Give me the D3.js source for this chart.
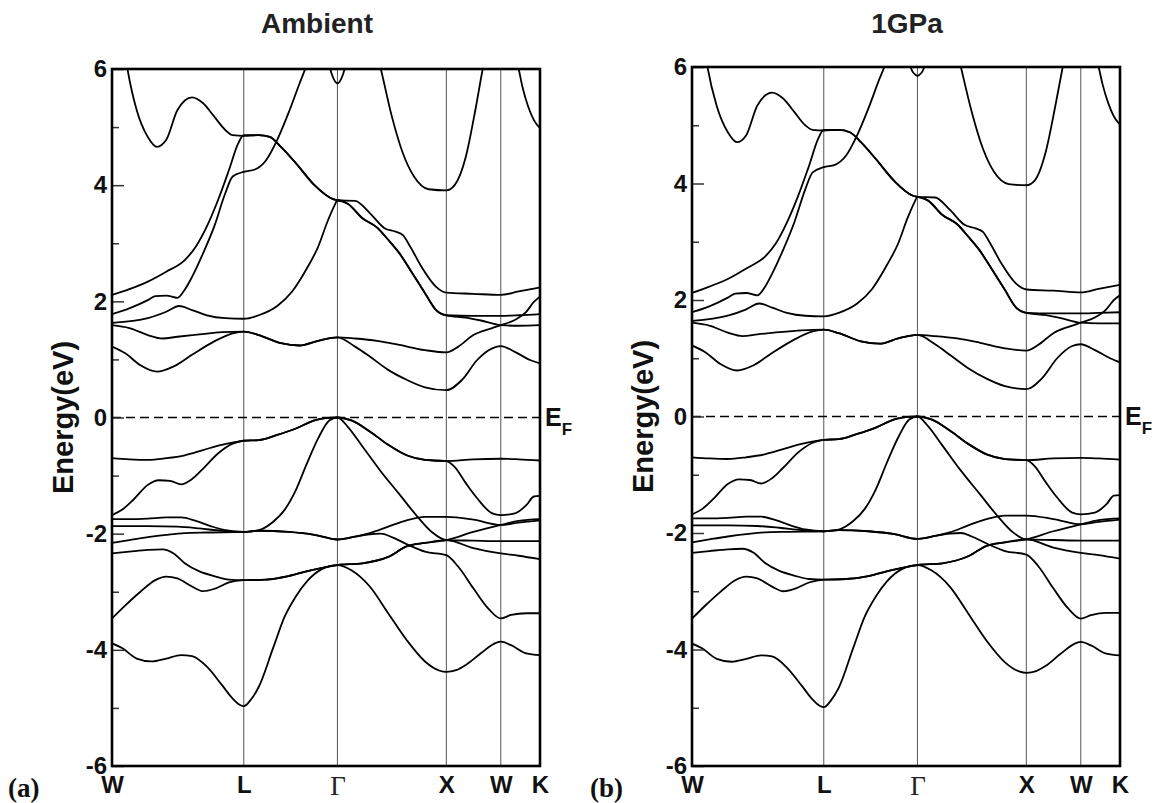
<!DOCTYPE html>
<html><head><meta charset="utf-8">
<script src="https://cdn.jsdelivr.net/npm/d3@7"></script>
<style>body{margin:0;background:#fff}</style>
</head><body>
<svg id="chart" width="1155" height="803"></svg>
<script>
// ---------- data ----------
const kLabels = ["W","L","Γ","X","W","K"];
const kTicks = [0, 1.21, 2.07, 3.07, 3.57, 3.93];
const yMajorTicks = [-6,-4,-2,0,2,4,6];
const yMinorTicks = [-5,-3,-1,1,3,5];
const panelTitles = ["Ambient","1GPa"];
const panelTags = ["(a)","(b)"];
const yLabel = "Energy(eV)";

// Ambient: valence bands [k, E]
const ambVB1 = [[0,-0.70],[0.159,-0.72],[0.329,-0.73],[0.498,-0.70],[0.668,-0.65],[0.837,-0.56],[1.007,-0.47],[1.142,-0.42],[1.21,-0.40],[1.347,-0.39],[1.517,-0.30],[1.688,-0.19],[1.859,-0.05],[1.961,-0.01],[2.07,0],[2.198,-0.05],[2.367,-0.24],[2.536,-0.47],[2.705,-0.65],[2.874,-0.73],[3.07,-0.75],[3.318,-0.72],[3.57,-0.71],[3.734,-0.72],[3.93,-0.74]];
const ambVB2 = [[0,-1.68],[0.092,-1.59],[0.194,-1.42],[0.329,-1.16],[0.430,-1.08],[0.532,-1.09],[0.634,-1.15],[0.735,-1.06],[0.837,-0.88],[0.973,-0.62],[1.108,-0.45],[1.21,-0.40],[1.347,-0.39],[1.517,-0.30],[1.688,-0.19],[1.859,-0.05],[1.961,-0.01],[2.07,0],[2.198,-0.05],[2.367,-0.24],[2.536,-0.47],[2.705,-0.65],[2.874,-0.73],[3.07,-0.75],[3.146,-0.85],[3.249,-1.13],[3.353,-1.39],[3.491,-1.65],[3.57,-1.68],[3.699,-1.65],[3.804,-1.51],[3.874,-1.36],[3.93,-1.35]];
const ambVB3 = [[0,-1.75],[0.159,-1.75],[0.329,-1.74],[0.498,-1.72],[0.634,-1.72],[0.769,-1.78],[0.905,-1.87],[1.040,-1.94],[1.21,-1.97],[1.347,-1.94],[1.483,-1.79],[1.585,-1.59],[1.688,-1.25],[1.790,-0.79],[1.893,-0.36],[1.995,-0.05],[2.07,0],[2.165,-0.16],[2.300,-0.50],[2.469,-0.93],[2.638,-1.32],[2.806,-1.71],[2.942,-1.98],[3.07,-2.11],[3.318,-2.12],[3.57,-2.13],[3.734,-2.13],[3.93,-2.13]];
const ambVB4 = [[0,-1.87],[0.329,-1.87],[0.600,-1.88],[0.803,-1.91],[1.007,-1.95],[1.21,-1.97],[1.347,-1.95],[1.620,-1.97],[1.859,-2.02],[2.07,-2.10],[2.232,-2.05],[2.367,-1.99],[2.536,-1.88],[2.705,-1.77],[2.874,-1.71],[3.07,-1.71],[3.318,-1.76],[3.57,-1.85],[3.734,-1.81],[3.93,-1.77]];
const ambVB5 = [[0,-2.16],[0.159,-2.11],[0.329,-2.06],[0.498,-2.02],[0.668,-1.99],[0.871,-1.98],[1.21,-1.97],[1.347,-1.95],[1.620,-1.97],[1.859,-2.02],[2.07,-2.10],[2.232,-2.05],[2.367,-2.01],[2.469,-2.00],[2.570,-2.06],[2.705,-2.18],[2.874,-2.31],[3.07,-2.37],[3.180,-2.57],[3.318,-2.94],[3.456,-3.29],[3.57,-3.46],[3.664,-3.40],[3.804,-3.37],[3.93,-3.37]];
const ambVB6 = [[0,-2.34],[0.159,-2.31],[0.329,-2.28],[0.464,-2.27],[0.566,-2.34],[0.668,-2.51],[0.803,-2.65],[0.939,-2.73],[1.074,-2.79],[1.21,-2.80],[1.415,-2.79],[1.620,-2.73],[1.824,-2.63],[2.07,-2.54],[2.300,-2.51],[2.536,-2.40],[2.705,-2.22],[2.874,-2.16],[3.07,-2.11],[3.318,-2.25],[3.57,-2.34],[3.734,-2.38],[3.93,-2.44]];
const ambVB7 = [[0,-3.46],[0.125,-3.23],[0.261,-3.00],[0.397,-2.80],[0.498,-2.74],[0.600,-2.77],[0.735,-2.91],[0.837,-2.99],[0.939,-2.95],[1.074,-2.84],[1.21,-2.80],[1.415,-2.79],[1.620,-2.73],[1.824,-2.63],[2.07,-2.54],[2.300,-2.51],[2.536,-2.40],[2.705,-2.22],[2.874,-2.16],[3.07,-2.11],[3.318,-1.97],[3.57,-1.85],[3.734,-1.78],[3.93,-1.75]];
const ambVB8 = [[0,-3.89],[0.092,-3.97],[0.227,-4.15],[0.363,-4.20],[0.498,-4.15],[0.634,-4.09],[0.735,-4.11],[0.871,-4.29],[1.007,-4.60],[1.108,-4.84],[1.176,-4.95],[1.21,-4.97],[1.278,-4.85],[1.347,-4.64],[1.483,-3.95],[1.585,-3.43],[1.688,-3.08],[1.790,-2.82],[1.927,-2.61],[2.07,-2.54],[2.198,-2.63],[2.367,-2.91],[2.536,-3.37],[2.705,-3.83],[2.874,-4.20],[3.009,-4.36],[3.07,-4.38],[3.160,-4.35],[3.249,-4.26],[3.387,-4.06],[3.525,-3.88],[3.57,-3.86],[3.664,-3.92],[3.804,-4.06],[3.93,-4.09]];
// Ambient: conduction bands
const ambCB1 = [[0,1.22],[0.125,1.10],[0.261,0.90],[0.413,0.79],[0.566,0.88],[0.735,1.08],[0.939,1.31],[1.108,1.45],[1.21,1.48],[1.347,1.42],[1.551,1.28],[1.722,1.24],[1.893,1.32],[2.07,1.38],[2.232,1.22],[2.367,1.05],[2.536,0.82],[2.705,0.65],[2.874,0.52],[3.07,0.47],[3.215,0.65],[3.353,0.99],[3.491,1.19],[3.57,1.23],[3.699,1.13],[3.839,0.99],[3.93,0.93]];
const ambCB2 = [[0,1.59],[0.159,1.54],[0.329,1.42],[0.464,1.36],[0.600,1.39],[0.803,1.43],[1.007,1.47],[1.21,1.48],[1.347,1.42],[1.551,1.28],[1.722,1.24],[1.893,1.32],[2.07,1.38],[2.232,1.36],[2.435,1.32],[2.638,1.25],[2.874,1.16],[3.07,1.12],[3.180,1.22],[3.318,1.42],[3.491,1.54],[3.57,1.59],[3.699,1.68],[3.804,1.82],[3.874,1.99],[3.93,2.08]];
const ambCB3 = [[0,1.63],[0.329,1.71],[0.498,1.82],[0.617,1.92],[0.735,1.85],[0.871,1.76],[1.040,1.71],[1.21,1.70],[1.347,1.76],[1.517,1.92],[1.654,2.17],[1.790,2.57],[1.893,2.94],[1.978,3.37],[2.046,3.66],[2.07,3.74],[2.165,3.68],[2.300,3.43],[2.435,3.27],[2.536,3.06],[2.638,2.83],[2.739,2.54],[2.874,2.14],[2.976,1.85],[3.07,1.76],[3.249,1.72],[3.387,1.67],[3.57,1.59],[3.734,1.58],[3.93,1.59]];
const ambCB4 = [[0,1.78],[0.159,1.88],[0.329,2.02],[0.397,2.09],[0.498,2.10],[0.600,2.06],[0.668,2.20],[0.735,2.42],[0.837,2.83],[0.939,3.29],[1.040,3.86],[1.108,4.15],[1.21,4.23],[1.312,4.27],[1.415,4.43],[1.517,4.78],[1.620,5.24],[1.722,5.75],[1.773,6.0],[1.82,6.3]];
const ambCB5 = [[0,2.11],[0.159,2.21],[0.329,2.34],[0.498,2.51],[0.668,2.71],[0.769,2.94],[0.871,3.29],[0.973,3.74],[1.074,4.26],[1.159,4.72],[1.21,4.86],[1.347,4.86],[1.449,4.83],[1.551,4.66],[1.688,4.38],[1.859,4.00],[2.029,3.76],[2.07,3.74],[2.232,3.73],[2.367,3.52],[2.502,3.26],[2.604,3.20],[2.671,3.14],[2.739,2.94],[2.840,2.60],[2.976,2.25],[3.07,2.15],[3.318,2.13],[3.57,2.11],[3.734,2.17],[3.93,2.24]];
const ambCB6 = [[0.10,6.5],[0.142,6.0],[0.227,5.29],[0.329,4.83],[0.413,4.66],[0.498,4.78],[0.600,5.29],[0.735,5.51],[0.837,5.41],[0.939,5.18],[1.040,4.95],[1.108,4.86],[1.21,4.85],[1.347,4.86],[1.449,4.83],[1.551,4.66],[1.688,4.38],[1.859,4.00],[2.029,3.76],[2.07,3.74],[2.165,3.68],[2.300,3.43],[2.435,3.27],[2.536,3.06],[2.638,2.83],[2.739,2.54],[2.874,2.14],[2.976,1.85],[3.07,1.76],[3.318,1.75],[3.57,1.75],[3.734,1.76],[3.93,1.78]];
const ambCB7 = [[2.45,6.15],[2.469,6.0],[2.570,5.18],[2.671,4.55],[2.773,4.15],[2.908,3.93],[3.07,3.91],[3.146,4.00],[3.249,4.49],[3.336,5.29],[3.404,6.0],[3.42,6.15]];
const ambCB8 = [[3.72,6.1],[3.734,6.0],[3.769,5.69],[3.822,5.35],[3.874,5.12],[3.93,4.98]];
const ambCB9 = [[1.99,6.1],[2.02,5.9],[2.05,5.78],[2.07,5.75],[2.09,5.78],[2.12,5.9],[2.15,6.1]];

// 1 GPa: valence bands
const gpaVB1 = [[0,-0.70],[0.159,-0.72],[0.329,-0.73],[0.498,-0.70],[0.668,-0.65],[0.837,-0.56],[1.007,-0.47],[1.142,-0.42],[1.21,-0.40],[1.347,-0.39],[1.517,-0.30],[1.688,-0.19],[1.859,-0.05],[1.961,-0.01],[2.07,0],[2.198,-0.05],[2.367,-0.24],[2.536,-0.47],[2.705,-0.65],[2.874,-0.73],[3.07,-0.75],[3.318,-0.72],[3.57,-0.71],[3.734,-0.72],[3.93,-0.74]];
const gpaVB2 = [[0,-1.68],[0.092,-1.59],[0.194,-1.42],[0.329,-1.16],[0.430,-1.08],[0.532,-1.09],[0.634,-1.15],[0.735,-1.06],[0.837,-0.88],[0.973,-0.62],[1.108,-0.45],[1.21,-0.40],[1.347,-0.39],[1.517,-0.30],[1.688,-0.19],[1.859,-0.05],[1.961,-0.01],[2.07,0],[2.198,-0.05],[2.367,-0.24],[2.536,-0.47],[2.705,-0.65],[2.874,-0.73],[3.07,-0.75],[3.146,-0.85],[3.249,-1.13],[3.353,-1.39],[3.491,-1.65],[3.57,-1.68],[3.699,-1.65],[3.804,-1.51],[3.874,-1.36],[3.93,-1.35]];
const gpaVB3 = [[0,-1.75],[0.159,-1.75],[0.329,-1.74],[0.498,-1.72],[0.634,-1.72],[0.769,-1.78],[0.905,-1.87],[1.040,-1.94],[1.21,-1.97],[1.347,-1.94],[1.483,-1.79],[1.585,-1.59],[1.688,-1.25],[1.790,-0.79],[1.893,-0.36],[1.995,-0.05],[2.07,0],[2.165,-0.16],[2.300,-0.50],[2.469,-0.93],[2.638,-1.32],[2.806,-1.71],[2.942,-1.98],[3.07,-2.11],[3.318,-2.12],[3.57,-2.13],[3.734,-2.13],[3.93,-2.13]];
const gpaVB4 = [[0,-1.87],[0.329,-1.87],[0.600,-1.88],[0.803,-1.91],[1.007,-1.95],[1.21,-1.97],[1.347,-1.95],[1.620,-1.97],[1.859,-2.02],[2.07,-2.10],[2.232,-2.05],[2.367,-1.99],[2.536,-1.87],[2.705,-1.76],[2.874,-1.70],[3.07,-1.70],[3.318,-1.76],[3.57,-1.85],[3.734,-1.81],[3.93,-1.77]];
const gpaVB5 = [[0,-2.16],[0.159,-2.11],[0.329,-2.06],[0.498,-2.02],[0.668,-1.99],[0.871,-1.98],[1.21,-1.97],[1.347,-1.95],[1.620,-1.97],[1.859,-2.02],[2.07,-2.10],[2.232,-2.05],[2.367,-2.01],[2.469,-2.00],[2.570,-2.06],[2.705,-2.18],[2.874,-2.31],[3.07,-2.37],[3.180,-2.57],[3.318,-2.95],[3.456,-3.30],[3.57,-3.47],[3.664,-3.41],[3.804,-3.37],[3.93,-3.37]];
const gpaVB6 = [[0,-2.34],[0.159,-2.31],[0.329,-2.28],[0.464,-2.27],[0.566,-2.34],[0.668,-2.51],[0.803,-2.65],[0.939,-2.73],[1.074,-2.79],[1.21,-2.80],[1.415,-2.79],[1.620,-2.74],[1.824,-2.64],[2.07,-2.55],[2.300,-2.52],[2.536,-2.40],[2.705,-2.22],[2.874,-2.16],[3.07,-2.11],[3.318,-2.25],[3.57,-2.34],[3.734,-2.38],[3.93,-2.44]];
const gpaVB7 = [[0,-3.47],[0.125,-3.24],[0.261,-3.01],[0.397,-2.81],[0.498,-2.75],[0.600,-2.78],[0.735,-2.92],[0.837,-3.00],[0.939,-2.96],[1.074,-2.85],[1.21,-2.80],[1.415,-2.79],[1.620,-2.74],[1.824,-2.64],[2.07,-2.55],[2.300,-2.52],[2.536,-2.40],[2.705,-2.22],[2.874,-2.16],[3.07,-2.11],[3.318,-1.97],[3.57,-1.85],[3.734,-1.78],[3.93,-1.75]];
const gpaVB8 = [[0,-3.90],[0.092,-3.98],[0.227,-4.16],[0.363,-4.21],[0.498,-4.16],[0.634,-4.10],[0.735,-4.12],[0.871,-4.31],[1.007,-4.62],[1.108,-4.86],[1.176,-4.97],[1.21,-4.99],[1.278,-4.87],[1.347,-4.66],[1.483,-3.96],[1.585,-3.44],[1.688,-3.09],[1.790,-2.83],[1.927,-2.62],[2.07,-2.55],[2.198,-2.64],[2.367,-2.92],[2.536,-3.38],[2.705,-3.85],[2.874,-4.22],[3.009,-4.38],[3.07,-4.40],[3.160,-4.37],[3.249,-4.28],[3.387,-4.07],[3.525,-3.89],[3.57,-3.87],[3.664,-3.93],[3.804,-4.07],[3.93,-4.10]];
// 1 GPa: conduction bands
const gpaCB1 = [[0,1.22],[0.125,1.10],[0.261,0.90],[0.413,0.79],[0.566,0.88],[0.735,1.09],[0.939,1.32],[1.108,1.46],[1.21,1.49],[1.347,1.43],[1.551,1.29],[1.722,1.25],[1.893,1.34],[2.07,1.40],[2.232,1.24],[2.367,1.06],[2.536,0.83],[2.705,0.65],[2.874,0.52],[3.07,0.47],[3.215,0.66],[3.353,1.00],[3.491,1.21],[3.57,1.24],[3.699,1.14],[3.839,1.00],[3.93,0.93]];
const gpaCB2 = [[0,1.61],[0.159,1.56],[0.329,1.44],[0.464,1.38],[0.600,1.41],[0.803,1.45],[1.007,1.48],[1.21,1.49],[1.347,1.43],[1.551,1.29],[1.722,1.25],[1.893,1.34],[2.07,1.40],[2.232,1.38],[2.435,1.34],[2.638,1.27],[2.874,1.17],[3.07,1.13],[3.180,1.23],[3.318,1.43],[3.491,1.56],[3.57,1.61],[3.699,1.70],[3.804,1.84],[3.874,2.00],[3.93,2.08]];
const gpaCB3 = [[0,1.64],[0.329,1.73],[0.498,1.84],[0.617,1.94],[0.735,1.87],[0.871,1.78],[1.040,1.73],[1.21,1.72],[1.347,1.78],[1.517,1.94],[1.654,2.19],[1.790,2.60],[1.893,2.97],[1.978,3.40],[2.046,3.69],[2.07,3.77],[2.165,3.71],[2.300,3.46],[2.435,3.30],[2.536,3.09],[2.638,2.86],[2.739,2.57],[2.874,2.17],[2.976,1.87],[3.07,1.78],[3.249,1.74],[3.387,1.69],[3.57,1.61],[3.734,1.60],[3.93,1.60]];
const gpaCB4 = [[0,1.79],[0.159,1.89],[0.329,2.04],[0.397,2.11],[0.498,2.12],[0.600,2.08],[0.668,2.22],[0.735,2.45],[0.837,2.86],[0.939,3.33],[1.040,3.90],[1.108,4.19],[1.21,4.28],[1.312,4.32],[1.415,4.48],[1.517,4.83],[1.620,5.29],[1.722,5.80],[1.765,6.0],[1.81,6.3]];
const gpaCB5 = [[0,2.12],[0.159,2.23],[0.329,2.36],[0.498,2.54],[0.668,2.74],[0.769,2.97],[0.871,3.33],[0.973,3.78],[1.074,4.30],[1.159,4.77],[1.21,4.92],[1.347,4.92],[1.449,4.88],[1.551,4.71],[1.688,4.42],[1.859,4.04],[2.029,3.79],[2.07,3.77],[2.232,3.76],[2.367,3.55],[2.502,3.29],[2.604,3.23],[2.671,3.17],[2.739,2.97],[2.840,2.63],[2.976,2.28],[3.07,2.18],[3.318,2.16],[3.57,2.13],[3.734,2.19],[3.93,2.26]];
const gpaCB6 = [[0.10,6.5],[0.142,6.0],[0.227,5.33],[0.329,4.88],[0.413,4.71],[0.498,4.83],[0.600,5.34],[0.735,5.56],[0.837,5.46],[0.939,5.23],[1.040,5.00],[1.108,4.92],[1.21,4.91],[1.347,4.92],[1.449,4.88],[1.551,4.71],[1.688,4.42],[1.859,4.04],[2.029,3.79],[2.07,3.77],[2.165,3.71],[2.300,3.46],[2.435,3.30],[2.536,3.09],[2.638,2.86],[2.739,2.57],[2.874,2.17],[2.976,1.87],[3.07,1.78],[3.318,1.77],[3.57,1.77],[3.734,1.78],[3.93,1.79]];
const gpaCB7 = [[2.45,6.15],[2.469,6.0],[2.570,5.22],[2.671,4.60],[2.773,4.20],[2.908,3.99],[3.07,3.97],[3.146,4.05],[3.249,4.55],[3.336,5.33],[3.404,6.0],[3.42,6.15]];
const gpaCB8 = [[3.72,6.1],[3.734,6.0],[3.769,5.71],[3.822,5.38],[3.874,5.15],[3.93,5.01]];
const gpaCB9 = [[1.99,6.1],[2.025,5.92],[2.05,5.87],[2.07,5.85],[2.09,5.87],[2.115,5.92],[2.15,6.1]];

const ambientBands = [ambVB1,ambVB2,ambVB3,ambVB4,ambVB5,ambVB6,ambVB7,ambVB8,ambCB1,ambCB2,ambCB3,ambCB4,ambCB5,ambCB6,ambCB7,ambCB8,ambCB9];
const gpaBands = [gpaVB1,gpaVB2,gpaVB3,gpaVB4,gpaVB5,gpaVB6,gpaVB7,gpaVB8,gpaCB1,gpaCB2,gpaCB3,gpaCB4,gpaCB5,gpaCB6,gpaCB7,gpaCB8,gpaCB9];

// ---------- layout ----------
const panels = [
  {title: panelTitles[0], tag: panelTags[0], bands: ambientBands, left:112, right:540, top:69, bottom:766, titleX:317, tagX:8, yLabelX:63},
  {title: panelTitles[1], tag: panelTags[1], bands: gpaBands, left:692, right:1120, top:67, bottom:766, titleX:907, tagX:590, yLabelX:643}
];
const SANS = "'Liberation Sans', Arial, Helvetica, sans-serif";
const SERIF = "'Liberation Serif', 'Times New Roman', serif";

const svg = d3.select("#chart");
svg.append("rect").attr("width",1155).attr("height",803).attr("fill","#fff");
const defs = svg.append("defs");

panels.forEach((p, pi) => {
  const x = d3.scaleLinear().domain([kTicks[0], kTicks[kTicks.length-1]]).range([p.left, p.right]);
  const y = d3.scaleLinear().domain([-6, 6]).range([p.bottom, p.top]);
  const g = svg.append("g");
  const clipId = "clip" + pi;
  defs.append("clipPath").attr("id", clipId).append("rect")
    .attr("x", p.left).attr("y", p.top).attr("width", p.right - p.left).attr("height", p.bottom - p.top);

  // high-symmetry vertical lines
  g.append("g").selectAll("line").data(kTicks.slice(1, -1)).join("line")
    .attr("x1", d => x(d)).attr("x2", d => x(d)).attr("y1", p.top).attr("y2", p.bottom)
    .attr("stroke", "#555").attr("stroke-width", 1);

  // Fermi level
  g.append("line").attr("x1", p.left).attr("x2", p.right).attr("y1", y(0)).attr("y2", y(0))
    .attr("stroke", "#000").attr("stroke-width", 1.7).attr("stroke-dasharray", "9,5");

  // bands
  const line = d3.line().x(d => x(d[0])).y(d => y(d[1])).curve(d3.curveMonotoneX);
  g.append("g").attr("clip-path", `url(#${clipId})`)
    .selectAll("path").data(p.bands).join("path")
    .attr("d", line).attr("fill", "none").attr("stroke", "#000").attr("stroke-width", 1.8)
    .attr("stroke-linejoin", "round");

  // y axis (major ticks, inward)
  const yAxis = g.append("g").attr("transform", `translate(${p.left},0)`)
    .call(d3.axisLeft(y).tickValues(yMajorTicks).tickSize(-12).tickPadding(5).tickFormat(d => String(d)));
  yAxis.select(".domain").remove();
  yAxis.selectAll("line").attr("stroke", "#333").attr("stroke-width", 1.5);
  yAxis.selectAll("text").attr("font-family", SANS).attr("font-weight", "bold")
    .attr("font-size", 24).attr("fill", "#111");
  // minor ticks
  const yMinor = g.append("g").attr("transform", `translate(${p.left},0)`)
    .call(d3.axisLeft(y).tickValues(yMinorTicks).tickSize(-7).tickFormat(""));
  yMinor.select(".domain").remove();
  yMinor.selectAll("line").attr("stroke", "#333").attr("stroke-width", 1.5);

  // x axis labels
  const xAxis = g.append("g").attr("transform", `translate(0,${p.bottom})`)
    .call(d3.axisBottom(x).tickValues(kTicks).tickSize(0).tickPadding(10).tickFormat((d, i) => kLabels[i]));
  xAxis.select(".domain").remove();
  xAxis.selectAll("text").each(function(d, i) {
    const t = d3.select(this);
    if (kLabels[i] === "Γ") {
      t.attr("font-family", SERIF).attr("font-weight", "normal").attr("font-size", 27).attr("fill", "#222");
    } else {
      t.attr("font-family", SANS).attr("font-weight", "bold").attr("font-size", 24).attr("fill", "#111");
    }
  });

  // frame
  g.append("rect").attr("x", p.left).attr("y", p.top).attr("width", p.right - p.left).attr("height", p.bottom - p.top)
    .attr("fill", "none").attr("stroke", "#000").attr("stroke-width", 2.6);

  // title
  g.append("text").attr("x", p.titleX).attr("y", 33).attr("text-anchor", "middle")
    .attr("font-family", SANS).attr("font-weight", "bold").attr("font-size", 28).attr("fill", "#222")
    .text(p.title);

  // y label
  g.append("text").attr("transform", `translate(${p.yLabelX},${y(0)}) rotate(-90)`)
    .attr("text-anchor", "middle").attr("dominant-baseline", "central")
    .attr("font-family", SANS).attr("font-weight", "bold").attr("font-size", 29).attr("fill", "#111")
    .text(yLabel);

  // E_F
  const ef = g.append("text").attr("x", p.right + 5).attr("y", y(0) + 8)
    .attr("font-family", SANS).attr("font-weight", "bold").attr("font-size", 25).attr("fill", "#111");
  ef.append("tspan").text("E");
  ef.append("tspan").attr("dy", 9).attr("font-size", 17).text("F");

  // panel tag
  g.append("text").attr("x", p.tagX).attr("y", 797)
    .attr("font-family", SERIF).attr("font-weight", "bold").attr("font-size", 27).attr("fill", "#111")
    .text(p.tag);
});
</script>
</body></html>
